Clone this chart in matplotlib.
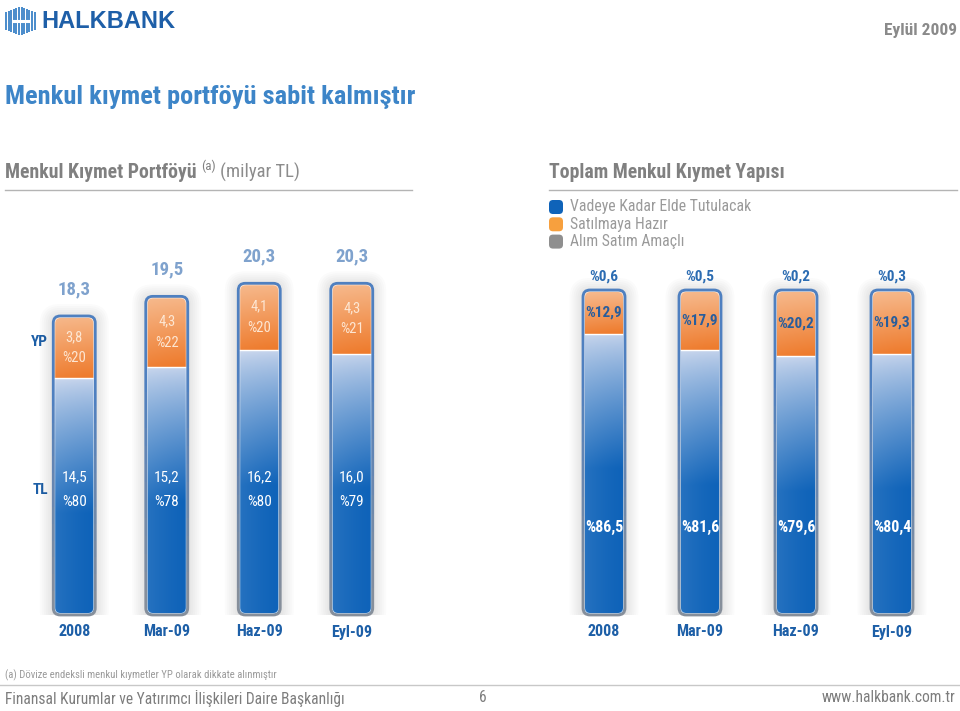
import numpy as np
import matplotlib
matplotlib.use("Agg")
import matplotlib.pyplot as plt
from matplotlib import font_manager as fm
from matplotlib.patches import FancyBboxPatch, Rectangle
from matplotlib.colors import to_rgb

# ---------------- data ----------------
periods = ['2008', 'Mar-09', 'Haz-09', 'Eyl-09']
# Left: Menkul Kiymet Portfoyu (milyar TL)
tl_values = [14.5, 15.2, 16.2, 16.0]
yp_values = [3.8, 4.3, 4.1, 4.3]
totals = [18.3, 19.5, 20.3, 20.3]
tl_share = [80, 78, 80, 79]
yp_share = [20, 22, 20, 21]
# Right: Toplam Menkul Kiymet Yapisi (%)
vadeye_kadar = [86.5, 81.6, 79.6, 80.4]
satilmaya_hazir = [12.9, 17.9, 20.2, 19.3]
alim_satim = [0.6, 0.5, 0.2, 0.3]
legend_labels = ['Vadeye Kadar Elde Tutulacak', 'Satılmaya Hazır', 'Alım Satım Amaçlı']

# ---------------- font: prefer a condensed sans ----------------
entries = fm.fontManager.ttflist
names = {f.name for f in entries}
prefs = ['Liberation Sans Narrow', 'Roboto Condensed', 'Open Sans Condensed', 'Noto Sans Condensed',
         'DejaVu Sans Condensed', 'Nimbus Sans Narrow', 'Arial Narrow']
cond = next((n for n in prefs if n in names), None)
stretch = 'normal'
if cond is None:
    cand = sorted(n for n in names if ('Condensed' in n or 'Narrow' in n))
    if cand:
        cond = cand[0]
if cond is None:
    cs = [f for f in entries if str(f.stretch) in ('condensed', 'semi-condensed', 'extra-condensed')]
    if cs:
        cond = cs[0].name
        stretch = 'condensed'
CONDENSED = cond is not None
FAMILY = [cond] if CONDENSED else []
FAMILY += ['Liberation Sans', 'DejaVu Sans']
plt.rcParams['font.family'] = FAMILY
plt.rcParams['font.stretch'] = stretch
S = 1.0 if CONDENSED else 0.86

# ---------------- style ----------------
BLUE = '#0f63b9'
BLUE_LIGHT = '#c6d4ec'
ORANGE_TOP = '#f6b789'
ORANGE_BOT = '#ee7a2b'
GRAY_SEG = '#8f8f8f'
BORDER_BLUE = '#4f80c0'
BORDER_GRAY = '#8b9098'
DARK_BLUE_TXT = '#1d5fa7'
GRAY_TXT = '#808080'

W, H = 960, 711
fig = plt.figure(figsize=(9.6, 7.11), dpi=100)
bg = fig.add_axes([0, 0, 1, 1])
bg.set_xlim(0, W)
bg.set_ylim(H, 0)
bg.axis('off')


def add_ax(x0, x1, ybase, ytop, ylim):
    ax = fig.add_axes([x0 / W, 1 - ybase / H, (x1 - x0) / W, (ybase - ytop) / H])
    ax.set_xlim(-0.5, 3.5)
    ax.set_ylim(*ylim)
    ax.axis('off')
    ax.patch.set_alpha(0)
    return ax


ax1 = add_ax(28, 398, 615, 615 - 22 * 16.34, (0, 22))
ax2 = add_ax(556, 940, 615, 615 - 110 * 3.25, (0, 110))


def px_scale(ax):
    x0, x1 = ax.get_xlim()
    y0, y1 = ax.get_ylim()
    bb = ax.get_position()
    return bb.width * W / (x1 - x0), bb.height * H / (y1 - y0)


def rbox(ax, x, w, y, h, pad_px=0.0, r_px=7.0, dy_px=0.0, **kw):
    sx, sy = px_scale(ax)
    dx, dy = pad_px / sx, pad_px / sy
    p = FancyBboxPatch((x - dx, y - dy - dy_px / sy), w + 2 * dx, h + 2 * dy,
                       boxstyle=f"round,pad=0,rounding_size={r_px / sx}",
                       mutation_aspect=sx / sy, **kw)
    ax.add_patch(p)
    return p


def lerp(c1, c2, t):
    a = np.array(to_rgb(c1))
    b = np.array(to_rgb(c2))
    t = np.asarray(t)[:, None]
    return a * (1 - t) + b * t


def grad(ax, xc, w, y0, y1, cols, clip, z=3, hlight=0.10):
    m = 24
    hx = np.linspace(0, 1, m)
    light = hlight * (1 - hx) ** 1.5
    img = cols[:, None, :] * (1 - light[None, :, None]) + light[None, :, None]
    im = ax.imshow(np.clip(img, 0, 1), extent=(xc - w / 2, xc + w / 2, y0, y1), origin='lower',
                   aspect='auto', interpolation='bilinear', zorder=z)
    im.set_clip_path(clip)


def blue_cols(ax, y0, y1, fade_px=135):
    sx, sy = px_scale(ax)
    ys = np.linspace(y0, y1, 120)
    t = np.clip((y1 - ys) * sy / fade_px, 0, 1) ** 0.8
    return lerp(BLUE_LIGHT, BLUE, t)


def orange_cols(y0, y1):
    ys = np.linspace(y0, y1, 60)
    t = (y1 - ys) / (y1 - y0)
    return lerp(ORANGE_TOP, ORANGE_BOT, t)


def frame(ax, xc, w, h):
    for k in range(7):
        rbox(ax, xc - w / 2, w, 0, h, pad_px=1.5 + 2.0 * k, r_px=8 + 2.0 * k, dy_px=1.5,
             fc='#000000', ec='none', alpha=0.014, zorder=1)
    clip = rbox(ax, xc - w / 2, w, 0, h, pad_px=0, r_px=7, fc='none', ec='none', zorder=2)
    return clip


def border(ax, xc, w, h):
    rbox(ax, xc - w / 2, w, 0, h, pad_px=-1.5, r_px=6, fc='none', ec='white', lw=0.7, alpha=0.75, zorder=6)
    sx, sy = px_scale(ax)
    steps = 12
    # band edges (fractions of bar height), top band is pure blue
    edges = np.concatenate([[1.0 + 20 / (h * sy)], np.linspace(0.7, 0.08, steps), [-20 / (h * sy)]])
    cols = np.vstack([lerp(BORDER_BLUE, BORDER_BLUE, [0.0]),
                      lerp(BORDER_BLUE, BORDER_GRAY, np.linspace(0.08, 0.92, steps)),
                      lerp(BORDER_GRAY, BORDER_GRAY, [0.0])])
    for k in range(len(edges) - 1):
        hi, lo = edges[k], edges[k + 1]
        p = rbox(ax, xc - w / 2, w, 0, h, r_px=7, fc='none', ec=tuple(cols[k]), lw=2.0, zorder=7)
        rr = Rectangle((xc - w, lo * h), 2 * w, (hi - lo) * h, transform=ax.transData)
        p.set_clip_path(rr)


def fmt(v):
    return f"{v:.1f}".replace('.', ',')


PT = 0.72  # points per pixel at 100 dpi

# ---------------- left chart ----------------
x = np.arange(len(periods))
bw1 = 42 / 92.5
bars_tl = ax1.bar(x, tl_values, bw1, color=BLUE, zorder=2)
bars_yp = ax1.bar(x, yp_values, bw1, bottom=tl_values, color=ORANGE_BOT, zorder=2)
for i in range(len(periods)):
    h = tl_values[i] + yp_values[i]
    clip = frame(ax1, x[i], bw1, h)
    bars_tl[i].set_clip_path(clip)
    bars_yp[i].set_clip_path(clip)
    grad(ax1, x[i], bw1, 0, tl_values[i], blue_cols(ax1, 0, tl_values[i]), clip)
    grad(ax1, x[i], bw1, tl_values[i], h, orange_cols(tl_values[i], h), clip, hlight=0.05)
    ax1.plot([x[i] - bw1 / 2, x[i] + bw1 / 2], [tl_values[i]] * 2, color='white', lw=1.0, zorder=5)
    border(ax1, x[i], bw1, h)
    ax1.annotate(fmt(totals[i]), (x[i], h), xytext=(0, 27 * PT), textcoords='offset points',
                 ha='center', va='center', fontsize=13.5 * S, color='#7fa2cd', fontweight='bold')
    mid = tl_values[i] + yp_values[i] / 2
    ax1.annotate(fmt(yp_values[i]), (x[i], mid), xytext=(0, 10 * PT), textcoords='offset points',
                 ha='center', va='center', fontsize=10.5 * S, color='#fde6d2', zorder=10)
    ax1.annotate(f"%{yp_share[i]}", (x[i], mid), xytext=(0, -11 * PT), textcoords='offset points',
                 ha='center', va='center', fontsize=10.5 * S, color='#fde6d2', zorder=10)
    ax1.text(x[i], 8.4, fmt(tl_values[i]), ha='center', va='center', fontsize=11 * S, color='white', zorder=10)
    ax1.text(x[i], 6.9, f"%{tl_share[i]}", ha='center', va='center', fontsize=11 * S, color='white', zorder=10)
    ax1.annotate(periods[i], (x[i], 0), xytext=(0, -17 * PT), textcoords='offset points',
                 ha='center', va='center', fontsize=11.5 * S, color=DARK_BLUE_TXT, fontweight='bold',
                 annotation_clip=False)

# ---------------- right chart ----------------
bw2 = 42 / 96
b1 = np.array(vadeye_kadar)
b2 = b1 + np.array(satilmaya_hazir)
bars_v = ax2.bar(x, vadeye_kadar, bw2, color=BLUE, zorder=2)
bars_s = ax2.bar(x, satilmaya_hazir, bw2, bottom=b1, color=ORANGE_BOT, zorder=2)
bars_a = ax2.bar(x, alim_satim, bw2, bottom=b2, color=GRAY_SEG, zorder=4)
for i in range(len(periods)):
    h = b2[i] + alim_satim[i]
    clip = frame(ax2, x[i], bw2, h)
    for b in (bars_v[i], bars_s[i], bars_a[i]):
        b.set_clip_path(clip)
    grad(ax2, x[i], bw2, 0, b1[i], blue_cols(ax2, 0, b1[i]), clip)
    grad(ax2, x[i], bw2, b1[i], b2[i], orange_cols(b1[i], b2[i]), clip, hlight=0.05)
    ax2.plot([x[i] - bw2 / 2, x[i] + bw2 / 2], [b1[i]] * 2, color='white', lw=1.0, zorder=5)
    border(ax2, x[i], bw2, h)
    ax2.annotate(f"%{fmt(alim_satim[i])}", (x[i], h), xytext=(0, 13 * PT), textcoords='offset points',
                 ha='center', va='center', fontsize=11 * S, color='#2c6cb2', fontweight='bold')
    ax2.text(x[i], (b1[i] + b2[i]) / 2, f"%{fmt(satilmaya_hazir[i])}", ha='center', va='center',
             fontsize=11 * S, color='#285d9c', fontweight='bold', zorder=10)
    ax2.text(x[i], 26.8, f"%{fmt(vadeye_kadar[i])}", ha='center', va='center',
             fontsize=11.5 * S, color='white', fontweight='bold', zorder=10)
    ax2.annotate(periods[i], (x[i], 0), xytext=(0, -17 * PT), textcoords='offset points',
                 ha='center', va='center', fontsize=11.5 * S, color=DARK_BLUE_TXT, fontweight='bold',
                 annotation_clip=False)

# ---------------- header / texts ----------------
for k, xs in enumerate(np.arange(6, 36, 2.6)):
    hh = 16 + 2 * min(k, 11 - k)
    bg.plot([xs, xs], [21 - hh / 2 - 1, 21 + hh / 2 + 1], color='#2a78c2', lw=1.2, solid_capstyle='butt')
bg.plot([14, 28], [21, 21], color='white', lw=2.2)
bg.text(41, 21, 'HALKBANK', fontsize=17, fontweight='bold', color='#1e5fa8', ha='left', va='center',
        family=['Liberation Sans', 'DejaVu Sans'], stretch='normal')
bg.text(957, 30, 'Eylül 2009', fontsize=12.5 * S, fontweight='bold', color='#8a8a8a', ha='right', va='center')
bg.text(5, 97, 'Menkul kıymet portföyü sabit kalmıştır', fontsize=19 * S, fontweight='bold',
        color='#3d85c8', ha='left', va='center')

r = fig.canvas.get_renderer()
t1 = bg.text(5, 172, 'Menkul Kıymet Portföyü', fontsize=14.2 * S, fontweight='bold', color=GRAY_TXT,
             ha='left', va='center')
e1 = t1.get_window_extent(r)
t2 = bg.text(e1.x1 + 4, 166, '(a)', fontsize=9.5 * S, color=GRAY_TXT, ha='left', va='center')
e2 = t2.get_window_extent(r)
bg.text(e2.x1 + 5, 172, '(milyar TL)', fontsize=13.5 * S, color='#8c8c8c', ha='left', va='center')
bg.plot([5, 412], [190, 190], color='#b4b4b4', lw=1.0)

bg.text(549, 172, 'Toplam Menkul Kıymet Yapısı', fontsize=14.2 * S, fontweight='bold', color=GRAY_TXT,
        ha='left', va='center')
bg.plot([549, 957], [190, 190], color='#b4b4b4', lw=1.0)

leg_cols = [BLUE, '#f7a03e', '#8f8f8f']
for k, (lab, col) in enumerate(zip(legend_labels, leg_cols)):
    yc = 207 + 17.3 * k
    bg.add_patch(FancyBboxPatch((549, yc - 7), 14, 14, boxstyle="round,pad=0,rounding_size=4",
                                fc=col, ec='none'))
    bg.text(570, yc, lab, fontsize=11.3 * S, color='#9a9a9a', ha='left', va='center')

bg.text(39, 342, 'YP', fontsize=11 * S, fontweight='bold', color=DARK_BLUE_TXT, ha='center', va='center')
bg.text(40, 490, 'TL', fontsize=11 * S, fontweight='bold', color=DARK_BLUE_TXT, ha='center', va='center')

bg.text(5, 675, '(a) Dövize endeksli menkul kıymetler YP olarak dikkate alınmıştır', fontsize=7.7 * S,
        color='#9a9a9a', ha='left', va='center')
bg.plot([0, 960], [685, 685], color='#c8c8c8', lw=1.0)
bg.text(5, 698, 'Finansal Kurumlar ve Yatırımcı İlişkileri Daire Başkanlığı', fontsize=11.2 * S,
        color='#7d7d7d', ha='left', va='center')
bg.text(483, 698, '6', fontsize=11.2 * S, color='#7d7d7d', ha='center', va='center')
bg.text(955, 698, 'www.halkbank.com.tr', fontsize=11.2 * S, color='#7d7d7d', ha='right', va='center')

fig.savefig('out.png', dpi=100)
